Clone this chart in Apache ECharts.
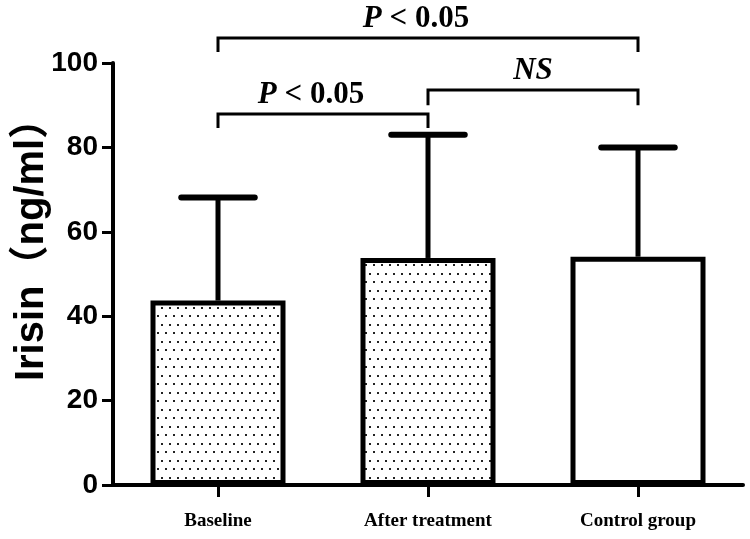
<!DOCTYPE html>
<html>
<head>
<meta charset="utf-8">
<script src="https://cdn.jsdelivr.net/npm/echarts@6/dist/echarts.min.js"></script>
<style>
html,body{margin:0;padding:0;background:#fff;}
#chart{width:750px;height:539px;}
</style>
</head>
<body>
<div id="chart"></div>
<script>
// ---- data ----
const categories = ['Baseline', 'After treatment', 'Control group'];
const means = [43.7, 53.8, 54.1];
const upperErrors = [68.1, 83.0, 80.0];
const yTicks = [0, 20, 40, 60, 80, 100];
const yAxisTitle = 'Irisin（ng/ml）';
// brackets: [from category, to category, bar level, leg bottom level]
const bracketFrom = [0, 0, 1];
const bracketTo = [2, 1, 2];
const bracketLevel = [105.9, 87.9, 93.6];
const bracketLegEnd = [102.6, 84.6, 90.0];
const bracketLabels = ['P < 0.05', 'P < 0.05', 'NS'];

// ---- styling ----
const dotted = [true, true, false];
function makeDots() {
  const c = document.createElement('canvas');
  c.width = 8; c.height = 17;
  const ctx = c.getContext('2d');
  ctx.fillStyle = '#fff';
  ctx.fillRect(0, 0, 8, 17);
  ctx.fillStyle = '#222';
  ctx.fillRect(1, 1, 2, 2);
  ctx.fillRect(5, 9, 2, 2);
  return c;
}
const dotPattern = { image: makeDots(), repeat: 'repeat' };

const chart = echarts.init(document.getElementById('chart'), null, { renderer: 'canvas' });

const barData = means.map((v, i) => ({
  value: v,
  itemStyle: { color: dotted[i] ? dotPattern : '#fff' }
}));
const errData = means.map((v, i) => [i, v, upperErrors[i]]);
const bracketData = bracketFrom.map((f, i) => [f, bracketTo[i], bracketLevel[i], bracketLegEnd[i], i]);

const serif = '"Liberation Serif", "Times New Roman", serif';
const sans = '"Liberation Sans", Arial, "Noto Sans CJK SC", sans-serif';

const option = {
  backgroundColor: '#fff',
  animation: false,
  grid: { left: 113, right: 7, top: 63, bottom: 54, containLabel: false },
  xAxis: {
    type: 'category',
    data: categories,
    axisLine: { show: true, lineStyle: { color: '#000', width: 4 } },
    axisTick: { show: true, alignWithLabel: true, length: 12, lineStyle: { color: '#000', width: 3 } },
    axisLabel: { color: '#000', fontFamily: serif, fontWeight: 'bold', fontSize: 19, margin: 27 },
    splitLine: { show: false }
  },
  yAxis: {
    type: 'value',
    min: yTicks[0],
    max: yTicks[yTicks.length - 1],
    interval: yTicks[1] - yTicks[0],
    axisLine: { show: true, lineStyle: { color: '#000', width: 4 } },
    axisTick: { show: true, length: 11, lineStyle: { color: '#000', width: 3 } },
    axisLabel: { color: '#000', fontFamily: sans, fontWeight: 'bold', fontSize: 28, margin: 15 },
    splitLine: { show: false }
  },
  graphic: [{
    type: 'text',
    x: 32,
    y: 240,
    rotation: Math.PI / 2,
    style: {
      text: yAxisTitle,
      font: 'bold 40px ' + sans,
      fill: '#000',
      align: 'center',
      verticalAlign: 'middle'
    }
  }],
  series: [
    {
      type: 'custom',
      z: 1,
      data: errData,
      encode: { x: 0, y: [1, 2] },
      clip: false,
      renderItem: function (params, api) {
        const base = api.coord([api.value(0), api.value(1)]);
        const top = api.coord([api.value(0), api.value(2)]);
        const half = api.size([1, 0])[0] * 0.175;
        return {
          type: 'group',
          children: [
            { type: 'line', shape: { x1: base[0], y1: base[1], x2: top[0], y2: top[1] },
              style: { stroke: '#000', lineWidth: 5 } },
            { type: 'line', shape: { x1: top[0] - half, y1: top[1], x2: top[0] + half, y2: top[1] },
              style: { stroke: '#000', lineWidth: 6, lineCap: 'round' } }
          ]
        };
      }
    },
    {
      type: 'bar',
      z: 2,
      data: barData,
      barWidth: 135,
      itemStyle: { borderColor: '#000', borderWidth: 5 }
    },
    {
      type: 'custom',
      z: 3,
      data: bracketData,
      encode: { x: [0, 1], y: [2, 3] },
      clip: false,
      renderItem: function (params, api) {
        const a = api.coord([api.value(0), api.value(2)]);
        const b = api.coord([api.value(1), api.value(2)]);
        const legY = api.coord([api.value(0), api.value(3)])[1];
        const idx = api.value(4);
        const raw = bracketLabels[idx];
        const txt = raw.replace(/^(P|NS)/, '{i|$1}');
        return {
          type: 'group',
          children: [
            { type: 'polyline',
              shape: { points: [[a[0], legY], [a[0], a[1]], [b[0], a[1]], [b[0], legY]] },
              style: { stroke: '#000', lineWidth: 3, fill: null } },
            { type: 'text',
              x: (a[0] + b[0]) / 2 - (raw === 'NS' ? 0 : 12),
              y: a[1] - 4,
              style: {
                text: txt,
                font: 'bold 31px ' + serif,
                fill: '#000',
                align: 'center',
                verticalAlign: 'bottom',
                rich: { i: { fontStyle: 'italic', fontWeight: 'bold', fontSize: 31, fontFamily: serif } }
              } }
          ]
        };
      }
    }
  ]
};
chart.setOption(option);
</script>
</body>
</html>
